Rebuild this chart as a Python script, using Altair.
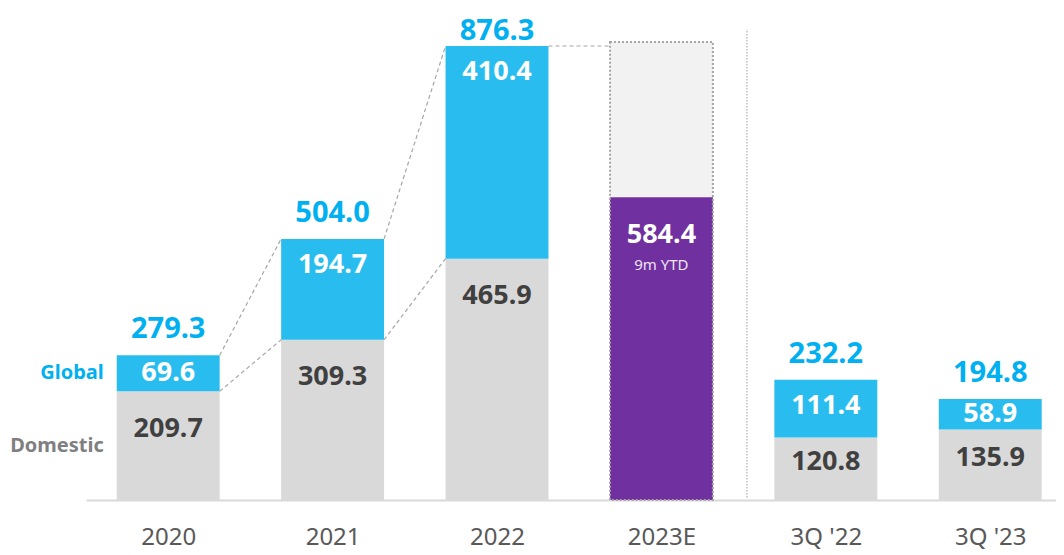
import json
import altair as alt
import pandas as pd

# ---- data ----
categories = ["2020", "2021", "2022", "2023E", "3Q '22", "3Q '23"]
domestic = [209.7, 309.3, 465.9, None, 120.8, 135.9]
global_vals = [69.6, 194.7, 410.4, None, 111.4, 58.9]
totals = [279.3, 504.0, 876.3, None, 232.2, 194.8]
ytd_value = 584.4
ytd_note = "9m YTD"
ytd_box_top = 884.0
series_names = ["Global", "Domestic"]
separator_after = 3.52  # between 2023E and 3Q '22

# ---- styles ----
FONT = "Noto Sans"
BLUE = "#29BDEF"
BLUE_TEXT = "#00B0F0"
GREY = "#D9D9D9"
PURPLE = "#7030A0"
LIGHT = "#F2F2F2"
DARK_TEXT = "#404040"
HALF = 0.313        # half bar width in category units
Y_MAX = 926.5       # top of the value axis
LABEL_CAP = 856.0   # keep the highest total label inside the page

n = len(categories)
ytd_idx = categories.index("2023E")

# segments
seg_rows = []
for i in range(n):
    if domestic[i] is not None:
        d, g = domestic[i], global_vals[i]
        seg_rows.append(dict(x0=i - HALF, x1=i + HALF, y0=0, y1=d, kind="Domestic"))
        seg_rows.append(dict(x0=i - HALF, x1=i + HALF, y0=d, y1=d + g, kind="Global"))
seg_rows.append(dict(x0=ytd_idx - HALF, x1=ytd_idx + HALF, y0=ytd_value, y1=ytd_box_top, kind="Target"))
seg_rows.append(dict(x0=ytd_idx - HALF, x1=ytd_idx + HALF, y0=0, y1=ytd_value, kind="YTD"))
segs = pd.DataFrame(seg_rows)

box = pd.DataFrame([dict(x0=ytd_idx - HALF, x1=ytd_idx + HALF, y0=0, y1=ytd_box_top)])

# labels
lab_rows = []
for i in range(n):
    if domestic[i] is None:
        continue
    d, g = domestic[i], global_vals[i]
    lab_rows.append(dict(x=i, y=d - min(72, 0.4 * d), text=f"{d:.1f}", c=DARK_TEXT))
    lab_rows.append(dict(x=i, y=d + g - min(g / 2, 50), text=f"{g:.1f}", c="#FFFFFF"))
labels = pd.DataFrame(lab_rows)

tot = pd.DataFrame([dict(x=i, y=min(totals[i], LABEL_CAP), text=f"{totals[i]:.1f}")
                    for i in range(n) if totals[i] is not None])

ytd_lab = pd.DataFrame([dict(x=ytd_idx, y=ytd_value, text=f"{ytd_value:.1f}", note=ytd_note)])

# connectors
con_rows = []
for i in range(2):
    con_rows.append(dict(x=i + HALF, x2=i + 1 - HALF, y=totals[i], y2=totals[i + 1]))
    con_rows.append(dict(x=i + HALF, x2=i + 1 - HALF, y=domestic[i], y2=domestic[i + 1]))
con_rows.append(dict(x=2 + HALF, x2=ytd_idx - HALF, y=totals[2], y2=totals[2]))
cons = pd.DataFrame(con_rows)

sep = pd.DataFrame([dict(x=separator_after, y=5, y2=909)])

series_lab = pd.DataFrame([
    dict(x=-HALF, y=domestic[0] + global_vals[0] / 2, text=series_names[0], c=BLUE_TEXT),
    dict(x=-HALF, y=domestic[0] / 2, text=series_names[1], c="#7F7F7F"),
])

xs = alt.Scale(domain=[-0.5, 5.4], nice=False, zero=False)
ys = alt.Scale(domain=[0, Y_MAX], nice=False, zero=True)

label_expr = json.dumps(categories) + "[datum.value]"

bars = alt.Chart(segs).mark_rect().encode(
    x=alt.X("x0:Q", scale=xs, axis=alt.Axis(
        values=list(range(n)), labelExpr=label_expr, title=None, grid=False, ticks=False,
        domainColor=GREY, domainWidth=2, labelFont=FONT, labelFontSize=24,
        labelColor="#595959", labelPadding=37, labelBaseline="middle", labelFlush=False)),
    x2="x1:Q",
    y=alt.Y("y0:Q", scale=ys, axis=None),
    y2="y1:Q",
    color=alt.Color("kind:N", scale=alt.Scale(domain=["Domestic", "Global", "YTD", "Target"],
                                              range=[GREY, BLUE, PURPLE, LIGHT]), legend=None),
)

outline = alt.Chart(box).mark_rect(fillOpacity=0, stroke="#A6A6A6", strokeDash=[2, 2], strokeWidth=2).encode(
    x="x0:Q", x2="x1:Q", y="y0:Q", y2="y1:Q")

connectors = alt.Chart(cons).mark_rule(color="#A6A6A6", strokeDash=[4, 3], strokeWidth=1.2).encode(
    x="x:Q", x2="x2:Q", y="y:Q", y2="y2:Q")

separator = alt.Chart(sep).mark_rule(color="#BFBFBF", strokeDash=[1.5, 1.5], strokeWidth=1.5).encode(
    x="x:Q", y="y:Q", y2="y2:Q")

seg_text = alt.Chart(labels).mark_text(font=FONT, fontSize=27, fontWeight="bold", baseline="middle").encode(
    x="x:Q", y="y:Q", text="text:N", color=alt.Color("c:N", scale=None))

tot_text = alt.Chart(tot).mark_text(font=FONT, fontSize=29, fontWeight="bold", baseline="alphabetic",
                                    dy=-17, color=BLUE_TEXT).encode(x="x:Q", y="y:Q", text="text:N")

ytd_text = alt.Chart(ytd_lab).mark_text(font=FONT, fontSize=27, fontWeight="bold", baseline="middle",
                                        dy=38, color="white").encode(x="x:Q", y="y:Q", text="text:N")
ytd_note_text = alt.Chart(ytd_lab).mark_text(font=FONT, fontSize=15, baseline="middle", dy=68,
                                             color="#EDE4F5").encode(x="x:Q", y="y:Q", text="note:N")

series_text = alt.Chart(series_lab).mark_text(font=FONT, fontSize=20, fontWeight="bold", align="right",
                                              baseline="middle", dx=-13).encode(
    x="x:Q", y="y:Q", text="text:N", color=alt.Color("c:N", scale=None))

chart = alt.layer(bars, outline, connectors, separator, seg_text, tot_text, ytd_text, ytd_note_text,
                  series_text).properties(
    width=970, height=480,
    background="white",
    autosize=alt.AutoSizeParams(type="none"),
    padding={"left": 78, "top": 12, "right": 0, "bottom": 52},
).configure_view(strokeWidth=0)

chart.save("out.html", embed_options={"renderer": "svg", "actions": False})
